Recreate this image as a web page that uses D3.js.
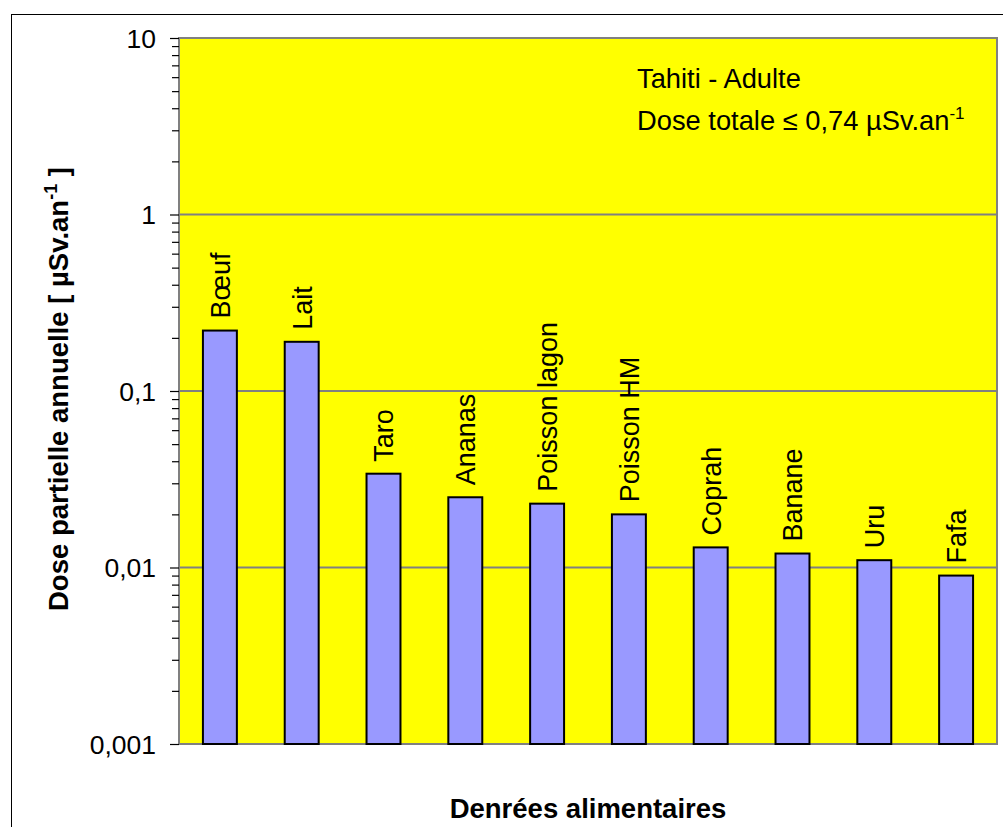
<!DOCTYPE html>
<html>
<head>
<meta charset="utf-8">
<script src="https://cdn.jsdelivr.net/npm/d3@7"></script>
<style>
  html, body { margin: 0; padding: 0; background: #fff; }
  svg { display: block; }
  text { font-family: Arial, "Liberation Sans", sans-serif; }
</style>
</head>
<body>
<svg id="chart" width="1003" height="827"></svg>
<script>
const categories = ["Bœuf", "Lait", "Taro", "Ananas", "Poisson lagon", "Poisson HM", "Coprah", "Banane", "Uru", "Fafa"];
const doses = [0.22, 0.19, 0.034, 0.025, 0.023, 0.020, 0.013, 0.012, 0.011, 0.009];
const yTickValues = [0.001, 0.01, 0.1, 1, 10];
const yTickLabels = ["0,001", "0,01", "0,1", "1", "10"];

const svg = d3.select("#chart");
const plot = { left: 179, top: 38, right: 997, bottom: 744 };

// outer frame
svg.append("rect")
  .attr("x", 11.5).attr("y", 14.5)
  .attr("width", 1010).attr("height", 830)
  .attr("fill", "#fff").attr("stroke", "#000").attr("stroke-width", 1);

const x = d3.scaleBand().domain(categories)
  .range([plot.left, plot.right]).paddingInner(0.585).paddingOuter(0.2925);
const y = d3.scaleLog().domain([0.001, 10]).range([plot.bottom, plot.top]);

// plot background
svg.append("rect")
  .attr("x", plot.left).attr("y", plot.top)
  .attr("width", plot.right - plot.left).attr("height", plot.bottom - plot.top)
  .attr("fill", "#ffff00");

// gridlines
svg.append("g").selectAll("line").data(yTickValues.slice(1, -1)).join("line")
  .attr("x1", plot.left).attr("x2", plot.right)
  .attr("y1", d => y(d)).attr("y2", d => y(d))
  .attr("stroke", "#808080").attr("stroke-width", 2);

// border
svg.append("rect")
  .attr("x", plot.left).attr("y", plot.top)
  .attr("width", plot.right - plot.left).attr("height", plot.bottom - plot.top)
  .attr("fill", "none").attr("stroke", "#808080").attr("stroke-width", 2);

// bars
svg.append("g").selectAll("rect").data(categories).join("rect")
  .attr("x", d => x(d))
  .attr("width", x.bandwidth())
  .attr("y", (d, i) => y(doses[i]))
  .attr("height", (d, i) => plot.bottom - y(doses[i]))
  .attr("fill", "#9999ff").attr("stroke", "#000").attr("stroke-width", 2);

// bar labels
svg.append("g").selectAll("text").data(categories).join("text")
  .attr("transform", (d, i) => `translate(${x(d) + x.bandwidth() / 2 + 0.5},${y(doses[i]) - 12}) rotate(-90)`)
  .attr("dy", "0.35em")
  .attr("text-anchor", "start")
  .attr("font-size", 27)
  .text(d => d);

// y axis
const minorTicks = [];
for (let e = -3; e < 1; e++) for (let m = 1; m < 10; m++) minorTicks.push(m * Math.pow(10, e));
minorTicks.push(10);
const isMajor = d => yTickValues.some(v => Math.abs(v - d) / v < 1e-6);
const yAxis = d3.axisLeft(y).tickValues(minorTicks)
  .tickSize(7)
  .tickFormat(d => { const i = yTickValues.findIndex(v => Math.abs(v - d) / v < 1e-6); return i >= 0 ? yTickLabels[i] : ""; });
const gy = svg.append("g").attr("transform", `translate(${plot.left},0)`).call(yAxis);
gy.select(".domain").remove();
gy.selectAll(".tick line").attr("stroke", "#000").attr("stroke-width", 1.2)
  .attr("x1", 0)
  .attr("x2", d => isMajor(d) ? -9 : -7);
gy.selectAll(".tick text").attr("font-size", 26.5).attr("fill", "#000")
  .attr("font-family", "Arial, 'Liberation Sans', sans-serif").attr("x", -23).attr("dy", "0.34em");

// y axis title
const yt = svg.append("text")
  .attr("transform", `translate(68,${(plot.top + plot.bottom) / 2 - 2}) rotate(-90)`)
  .attr("text-anchor", "middle")
  .attr("font-size", 27.5).attr("font-weight", "bold");
yt.append("tspan").text("Dose partielle annuelle [ µSv.an");
yt.append("tspan").attr("dy", -11).attr("font-size", 18).text("-1");
yt.append("tspan").attr("dy", 11).text(" ]");

// x axis title
svg.append("text")
  .attr("x", (plot.left + plot.right) / 2).attr("y", 818)
  .attr("text-anchor", "middle")
  .attr("font-size", 27.5).attr("font-weight", "bold")
  .text("Denrées alimentaires");

// annotation
svg.append("text").attr("x", 637).attr("y", 88).attr("font-size", 27.3).text("Tahiti - Adulte");
const an = svg.append("text").attr("x", 637).attr("y", 130).attr("font-size", 27.3);
an.append("tspan").text("Dose totale ≤ 0,74 µSv.an");
an.append("tspan").attr("dy", -11).attr("font-size", 17).text("-1");
</script>
</body>
</html>
